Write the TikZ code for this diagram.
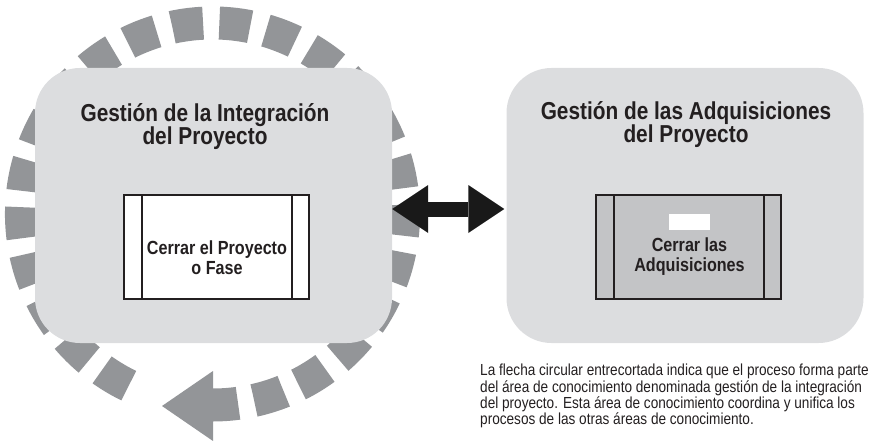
\documentclass[tikz,border=0pt]{standalone}
\usepackage{fontspec}
\setmainfont[FakeStretch=0.85]{Liberation Sans}
\usepackage{tikz}
\usetikzlibrary{arrows.meta}
\definecolor{areagray}{HTML}{DCDDDF}
\definecolor{dashgray}{HTML}{939598}
\definecolor{procgray}{HTML}{C3C4C6}
\definecolor{inkdark}{HTML}{231F20}

\begin{document}
\begin{tikzpicture}[x=1pt, y=1pt]
\tikzstyle{myareastyle} = [fill=areagray, rounded corners=45pt, minimum width=357pt, minimum height=275pt, inner sep=0pt]
\tikzstyle{mytitlestyle} = [font=\fontsize{24.5}{23}\selectfont\bfseries, align=center, text=inkdark, inner sep=0pt]
\tikzstyle{myprocstyle} = [draw=inkdark, line width=1.2pt, minimum width=185pt, minimum height=104pt, inner sep=0pt,
  path picture={\draw[inkdark, line width=1.2pt] ([xshift=18pt]path picture bounding box.north west) -- ([xshift=18pt]path picture bounding box.south west)
  ([xshift=-17pt]path picture bounding box.north east) -- ([xshift=-17pt]path picture bounding box.south east);}]
\tikzstyle{mytextstyle} = [font=\fontsize{19}{20}\selectfont\bfseries, align=center, text=inkdark, inner sep=0pt]
\tikzstyle{mydblarrow} = [line width=15pt, draw=black!90, {Triangle[length=36pt,width=48pt,line width=0pt]}-{Triangle[length=36pt,width=48pt,line width=0pt]}]
\useasboundingbox (0,0) rectangle (878,440);
\coordinate (ciclo) at (212.5,226);
\draw[line width=33pt, dashgray, dash pattern=on 31pt off 16.3pt] (ciclo) ++(244:191) arc[start angle=244, end angle=-92, radius=191];
\fill[dashgray] (213,69) -- (213,-1) -- (162,34) -- cycle;
\node[myareastyle] (integ) at (213.5,234.5) {};
\node[myareastyle] (adq) at (685,234.5) {};
\node[mytitlestyle] (integtitulo) at (205,313.5) {Gestión de la Integración\\del Proyecto};
\node[mytitlestyle] (adqtitulo) at (686,315) {Gestión de las Adquisiciones\\del Proyecto};
\node[myprocstyle, fill=white] (cierre) at (216.5,193) {};
\node[myprocstyle, fill=procgray] (cierreadq) at (688.5,193) {};
\node[fill=white, minimum width=41pt, minimum height=16pt, inner sep=0pt] (marca) at (689.5,218) {};
\node[mytextstyle] (cierretexto) at (217,182) {Cerrar el Proyecto\\o Fase};
\node[mytextstyle] (cierreadqtexto) at (689.5,183) {Cerrar las\\Adquisiciones};
\draw[mydblarrow] ([yshift=-3.5pt]integ.east) -- ([yshift=-3.5pt, xshift=-2pt]adq.west);
\node[font=\fontsize{16}{16.3}\selectfont, align=left, inner sep=0pt, text=inkdark, anchor=north west] (nota) at (480,76) {La flecha circular entrecortada indica que el proceso forma parte\\del área de conocimiento denominada gestión de la integración\\del proyecto. Esta área de conocimiento coordina y unifica los\\procesos de las otras áreas de conocimiento.};
\end{tikzpicture}
\end{document}
